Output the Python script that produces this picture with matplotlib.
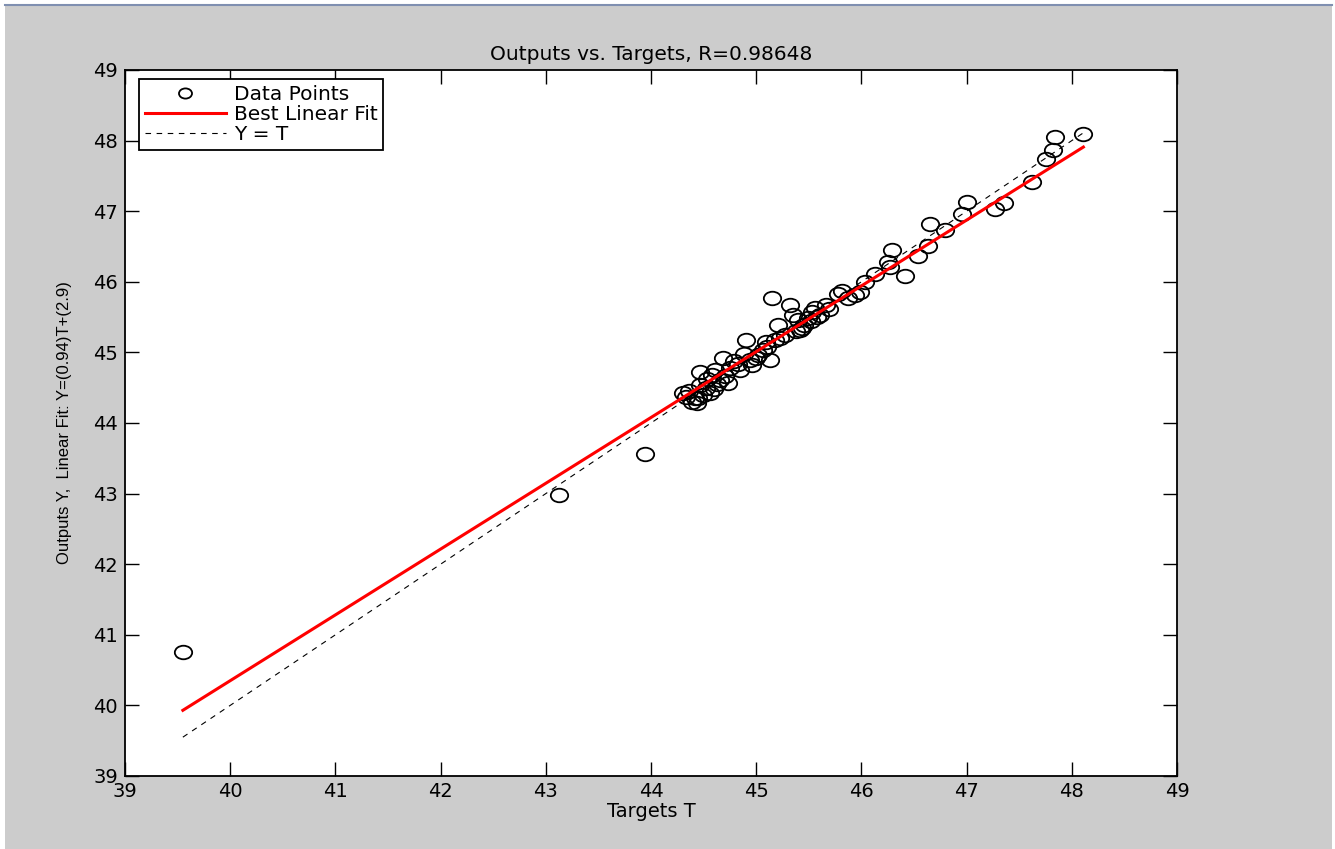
import numpy as np
import matplotlib
matplotlib.use("Agg")
import matplotlib.pyplot as plt
from matplotlib.path import Path
from matplotlib.patches import Rectangle
from matplotlib.lines import Line2D

# ---- data ----
targets = [39.55, 43.13, 43.94,
           44.33, 44.39, 44.44, 44.47, 44.47, 44.49, 44.52, 44.56, 44.58, 44.61,
           44.66, 44.68, 44.73, 44.75, 44.83, 44.85, 44.90, 44.94, 44.96, 45.02,
           45.06, 45.09, 45.13, 45.15, 45.18, 45.23, 45.21, 45.32, 45.35, 45.40,
           45.42, 45.45, 45.49, 45.53, 45.56, 45.61, 45.66, 45.78, 45.82, 45.87,
           45.94, 45.99, 46.03, 46.13, 46.25, 46.29, 46.27, 46.41, 46.54, 46.63,
           46.65, 46.79, 46.96, 47.00, 47.27, 47.36, 47.62, 47.75, 47.82, 47.84,
           48.11,
           44.36, 44.42, 44.53, 44.63, 44.70, 44.79, 44.88, 45.00, 45.10, 45.27,
           45.38, 45.44, 45.52, 45.58, 45.69, 44.30, 44.45, 44.60]
outputs = [40.76, 42.98, 43.56,
           44.37, 44.30, 44.28, 44.54, 44.72, 44.40, 44.50, 44.42, 44.68, 44.75,
           44.61, 44.92, 44.57, 44.78, 44.84, 44.75, 45.18, 44.89, 44.82, 44.96,
           45.03, 45.15, 44.89, 45.77, 45.18, 45.21, 45.39, 45.67, 45.53, 45.46,
           45.32, 45.39, 45.49, 45.57, 45.63, 45.53, 45.67, 45.83, 45.87, 45.77,
           45.81, 45.86, 46.00, 46.11, 46.28, 46.45, 46.21, 46.08, 46.37, 46.51,
           46.82, 46.73, 46.96, 47.13, 47.03, 47.12, 47.41, 47.74, 47.87, 48.05,
           48.09,
           44.45, 44.35, 44.62, 44.55, 44.66, 44.88, 44.98, 44.92, 45.08, 45.25,
           45.30, 45.35, 45.45, 45.50, 45.62, 44.42, 44.35, 44.48]
fit_slope = 0.932
fit_intercept = 3.07
title_text = "Outputs vs. Targets, R=0.98648"
xlabel_text = "Targets T"
ylabel_text = "Outputs Y,  Linear Fit: Y=(0.94)T+(2.9)"
ticks = [39, 40, 41, 42, 43, 44, 45, 46, 47, 48, 49]
legend_labels = ["Data Points", "Best Linear Fit", "Y = T"]

# ---- figure ----
W, H = 1335, 849
plt.rcParams["font.family"] = ["DejaVu Sans"]
fig = plt.figure(figsize=(W / 100, H / 100), dpi=100, facecolor="#cccccc")

# frame decorations of the screenshot
fig.patches.append(Rectangle((0, 0), 5 / W, 1, transform=fig.transFigure,
                             facecolor="white", edgecolor="none", zorder=0))
fig.patches.append(Rectangle((1 - 3 / W, 0), 3 / W, 1, transform=fig.transFigure,
                             facecolor="white", edgecolor="none", zorder=0))
fig.patches.append(Rectangle((0, 1 - 5 / H), 1, 5 / H, transform=fig.transFigure,
                             facecolor="white", edgecolor="none", zorder=0))
fig.lines.append(Line2D([5 / W, 1 - 3 / W], [1 - 5 / H, 1 - 5 / H],
                        transform=fig.transFigure, color="#7f8fb0", lw=1.5))

ax = fig.add_axes([125 / W, 1 - 776 / H, (1177 - 125) / W, (776 - 70) / H])
ax.set_facecolor("white")

# elliptical circle marker (the screenshot is stretched horizontally)
circ = Path.unit_circle()
ell = Path(circ.vertices * np.array([1.0, 0.78]), circ.codes)

t = np.array(targets)
o = np.array(outputs)
xr = np.array([t.min(), t.max()])

ax.plot(t, o, linestyle="none", marker=ell, markersize=12.5,
        markerfacecolor="none", markeredgecolor="black", markeredgewidth=1.3,
        label=legend_labels[0], zorder=3)
ax.plot(xr, fit_slope * xr + fit_intercept, color="#ff0000", lw=2.2,
        label=legend_labels[1], zorder=4)
ax.plot(xr, xr, color="black", lw=0.8, linestyle=(0, (5, 5)),
        label=legend_labels[2], zorder=2)

ax.set_xlim(39, 49)
ax.set_ylim(39, 49)
ax.set_xticks(ticks)
ax.set_yticks(ticks)
ax.tick_params(direction="in", length=10, width=1, top=True, right=True,
               labelsize=14, colors="black")
ax.tick_params(axis="x", pad=4)
ax.tick_params(axis="y", pad=5)
for s in ax.spines.values():
    s.set_linewidth(1.3)
    s.set_color("black")

ax.set_title(title_text, fontsize=14.5, pad=7)
ax.set_xlabel(xlabel_text, fontsize=14, labelpad=1)
ax.set_ylabel(ylabel_text, fontsize=12, labelpad=15,
              family=["Liberation Sans Narrow", "Liberation Sans", "DejaVu Sans"])

leg = ax.legend(loc="upper left", bbox_to_anchor=(14 / 1052, 1 - 9 / 706),
                fontsize=14.5, frameon=True, fancybox=False, framealpha=1,
                edgecolor="black", borderpad=0.3, labelspacing=0.05,
                handlelength=4.0, handletextpad=0.4, borderaxespad=0,
                markerscale=0.75)
leg.get_frame().set_linewidth(1.3)

fig.savefig("out.png", dpi=100, facecolor=fig.get_facecolor())
